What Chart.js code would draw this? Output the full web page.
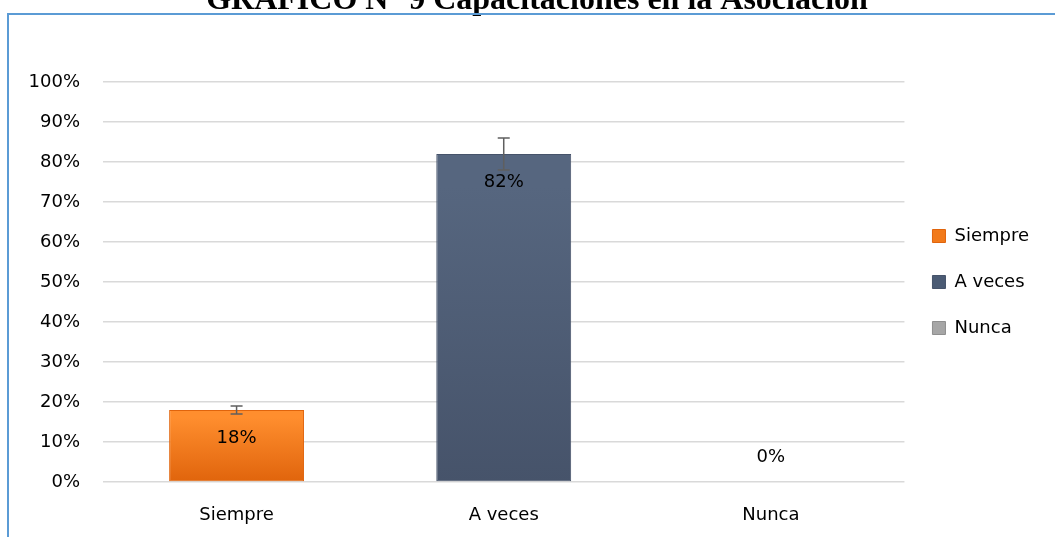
<!DOCTYPE html>
<html>
<head>
<meta charset="utf-8">
<script src="https://cdn.jsdelivr.net/npm/chart.js@4"></script>
<style>
    html, body { margin: 0; padding: 0; background: #fff; }
    #wrap { width: 1055px; height: 537px; position: relative; }
</style>
</head>
<body>
<div id="wrap"><canvas id="myChart" width="1055" height="537"></canvas></div>
<script>
const categories = ['Siempre', 'A veces', 'Nunca'];
const percentValues = [18, 82, 0];
const errorValues = [1, 4, 0];
const yTicks = [0, 10, 20, 30, 40, 50, 60, 70, 80, 90, 100];
const titleText = 'GRAFICO N° 9 Capacitaciones en la Asociación';

const topColors = ['#ff8e2e', '#56667f', '#b5b5b5'];
const bottomColors = ['#e0640c', '#46536a', '#8f8f8f'];
const legendColors = ['#f27a1a', '#4b5b74', '#a6a6a6'];

function barFill(ctx) {
    let chart = ctx.chart;
    let i = ctx.dataIndex;
    if (!chart.scales.y || i === undefined) {
        return legendColors[i] || '#999';
    }
    let top = chart.scales.y.getPixelForValue(percentValues[i]);
    let bottom = chart.scales.y.getPixelForValue(0);
    if (bottom - top < 2) {
        return topColors[i];
    }
    let g = chart.ctx.createLinearGradient(0, top, 0, bottom);
    g.addColorStop(0, topColors[i]);
    g.addColorStop(0.1, topColors[i]);
    g.addColorStop(1, bottomColors[i]);
    return g;
}

// title cut by the top edge + blue frame
const framePlugin = {
    id: 'frame',
    beforeDraw(chart) {
        let c = chart.ctx;
        c.save();
        c.fillStyle = '#000';
        c.font = 'bold 32px "Liberation Serif"';
        c.textAlign = 'center';
        c.textBaseline = 'alphabetic';
        c.fillText(titleText, 537, 9);
        c.strokeStyle = '#5b9bd5';
        c.lineWidth = 2;
        c.beginPath();
        c.moveTo(8, 537);
        c.lineTo(8, 14);
        c.lineTo(1055, 14);
        c.stroke();
        c.restore();
    }
};

const errorBarPlugin = {
    id: 'errorBars',
    afterDatasetsDraw(chart) {
        let c = chart.ctx;
        let meta = chart.getDatasetMeta(0);
        let y = chart.scales.y;
        c.save();
        c.strokeStyle = '#5f5f5f';
        c.lineWidth = 1.5;
        meta.data.forEach((bar, i) => {
            if (!errorValues[i]) return;
            let hi = y.getPixelForValue(percentValues[i] + errorValues[i]);
            let lo = y.getPixelForValue(percentValues[i] - errorValues[i]);
            c.beginPath();
            c.moveTo(bar.x, hi);
            c.lineTo(bar.x, lo);
            c.moveTo(bar.x - 6, hi);
            c.lineTo(bar.x + 6, hi);
            c.moveTo(bar.x - 6, lo);
            c.lineTo(bar.x + 6, lo);
            c.stroke();
        });
        c.restore();
    }
};

const valueLabelPlugin = {
    id: 'valueLabels',
    afterDatasetsDraw(chart) {
        let c = chart.ctx;
        let meta = chart.getDatasetMeta(0);
        c.save();
        c.fillStyle = '#000';
        c.font = '18px "DejaVu Sans"';
        c.textAlign = 'center';
        c.textBaseline = 'middle';
        meta.data.forEach((bar, i) => {
            let ty = percentValues[i] > 0 ? bar.y + 28 : bar.y - 25;
            c.fillText(percentValues[i] + '%', bar.x, ty);
        });
        c.restore();
    }
};

const data = {
    labels: categories,
    datasets: [{
        label: 'Capacitaciones',
        data: percentValues,
        backgroundColor: barFill,
        borderColor: bottomColors,
        borderWidth: 1,
        borderSkipped: false,
        categoryPercentage: 1,
        barPercentage: 0.505
    }]
};

let config = {
    type: 'bar',
    data: data,
    options: {
        responsive: false,
        animation: false,
        layout: { padding: { top: 82, left: 0, right: 16, bottom: 0 } },
        plugins: {
            title: { display: false },
            tooltip: { enabled: false },
            legend: {
                position: 'right',
                align: 'center',
                fullSize: false,
                labels: {
                    font: { family: 'DejaVu Sans', size: 18 },
                    color: '#000',
                    boxWidth: 13,
                    boxHeight: 13,
                    padding: 28,
                    generateLabels: function () {
                        return categories.map((name, i) => ({
                            text: name,
                            fillStyle: legendColors[i],
                            strokeStyle: bottomColors[i],
                            lineWidth: 1,
                            index: i
                        }));
                    }
                },
                onClick: null
            }
        },
        scales: {
            x: {
                grid: { display: false },
                border: { display: false },
                ticks: {
                    font: { family: 'DejaVu Sans', size: 18 },
                    color: '#000',
                    padding: 15
                },
                afterFit: function (s) { s.height = 55; }
            },
            y: {
                min: 0,
                max: 100,
                afterBuildTicks: function (s) {
                    s.ticks = yTicks.map(v => ({ value: v }));
                },
                grid: { color: '#d9d9d9', lineWidth: 1.5, drawTicks: false },
                border: { display: false },
                ticks: {
                    font: { family: 'DejaVu Sans', size: 18 },
                    color: '#000',
                    padding: 23,
                    callback: v => v + '%'
                },
                afterFit: function (s) { s.width = 103; }
            }
        }
    },
    plugins: [framePlugin, errorBarPlugin, valueLabelPlugin]
};

let myChart = new Chart(
    document.getElementById('myChart'),
    config
);
</script>
</body>
</html>
